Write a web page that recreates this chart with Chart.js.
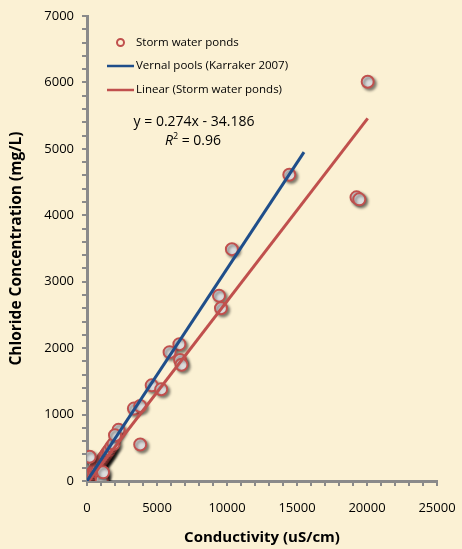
<!DOCTYPE html>
<html>
<head>
<meta charset="utf-8">
<script src="https://cdn.jsdelivr.net/npm/chart.js@4/dist/chart.umd.min.js"></script>
<style>
    html, body { margin: 0; padding: 0; background: #fbf1d4; }
    #wrap { width: 462px; height: 549px; }
</style>
</head>
<body>
<div id="wrap"><canvas id="chloride"></canvas></div>
<script>
// storm water ponds samples (conductivity uS/cm, chloride mg/L)
var pondX = [20050, 19250, 19450, 14450, 10350, 9430, 9570, 6600, 5900, 6650, 6750, 4620, 5300, 3350, 3800, 2250, 3800,
    0, 60, 120, 200, 300, 400, 500, 600, 700, 800, 900, 1000, 1050, 1100, 1200, 1300, 1400, 1500, 1600, 1750, 1900, 2000, 190, 1020, 1050, 1150];
var pondY = [6010, 4270, 4240, 4610, 3490, 2790, 2600, 2060, 1940, 1820, 1750, 1440, 1380, 1090, 1130, 770, 550,
    20, 0, 30, 60, 90, 120, 150, 180, 200, 230, 260, 290, 90, 320, 350, 380, 410, 440, 470, 520, 560, 690, 366, 60, 15, 130];

// Karraker 2007 relationship
var vernalX = [0, 15500];
var vernalY = [0, 4950];

// linear fit of the ponds
var fitSlope = 0.274;
var fitIntercept = -34.186;
var fitX = [0, 20050];

var xTicksMajor = 5000;
var yTicksMajor = 1000;

var labels = ["Storm water ponds", "Vernal pools (Karraker 2007)", "Linear (Storm water ponds)"];
var eqText = "y = 0.274x - 34.186";
var r2Text = "= 0.96";

var red = "#c0504d";
var blue = "#1f4e8a";
var axisGray = "#8a8a8a";

function toPoints(xs, ys) {
    var pts = [];
    for (var i = 0; i < xs.length; i++) {
        pts.push({x: xs[i], y: ys[i]});
    }
    return pts;
}

var fitY = [];
for (var i = 0; i < fitX.length; i++) {
    fitY.push(fitSlope * fitX[i] + fitIntercept);
}

// background + shadows + legend text
var decor = {
    id: "decor",
    beforeDraw: function (chart) {
        var ctx = chart.ctx;
        ctx.save();
        ctx.fillStyle = "#fbf1d4";
        ctx.fillRect(0, 0, chart.width, chart.height);
        ctx.restore();
    },
    beforeDatasetDraw: function (chart, args) {
        if (args.index === 0) {
            var ctx = chart.ctx;
            ctx.save();
            ctx.shadowColor = "rgba(0,0,0,0.45)";
            ctx.shadowOffsetX = 2;
            ctx.shadowOffsetY = 2;
            ctx.shadowBlur = 3;
        }
    },
    afterDatasetDraw: function (chart, args) {
        if (args.index === 0) {
            chart.ctx.restore();
        }
    },
    afterDraw: function (chart) {
        var ctx = chart.ctx;
        ctx.save();
        ctx.font = "11.5px 'Open Sans'";
        ctx.fillStyle = "#000";
        ctx.textBaseline = "middle";
        ctx.textAlign = "left";

        // legend
        ctx.beginPath();
        ctx.arc(120.5, 42.5, 3.5, 0, Math.PI * 2);
        ctx.strokeStyle = red;
        ctx.lineWidth = 2;
        ctx.stroke();
        ctx.fillText(labels[0], 136, 43);

        ctx.lineWidth = 2.5;
        ctx.strokeStyle = blue;
        ctx.beginPath();
        ctx.moveTo(107, 66);
        ctx.lineTo(134, 66);
        ctx.stroke();
        ctx.fillText(labels[1], 136, 66);

        ctx.strokeStyle = red;
        ctx.beginPath();
        ctx.moveTo(107, 90);
        ctx.lineTo(134, 90);
        ctx.stroke();
        ctx.fillText(labels[2], 136, 90);

        // trendline equation
        ctx.font = "14px 'Open Sans'";
        ctx.textAlign = "center";
        ctx.fillText(eqText, 194, 122);
        ctx.textAlign = "left";
        ctx.font = "italic 14px 'Open Sans'";
        ctx.fillText("R", 165, 141);
        var rw = ctx.measureText("R").width;
        ctx.font = "9px 'Open Sans'";
        ctx.fillText("2", 165 + rw, 136);
        ctx.font = "14px 'Open Sans'";
        ctx.fillText(" " + r2Text, 165 + rw + 5, 141);
        ctx.restore();
    }
};

var chartEl = document.getElementById("chloride");
var chlorideChart = new Chart(chartEl, {
    type: "scatter",
    data: {
        datasets: [
            {
                label: labels[0],
                data: toPoints(pondX, pondY),
                order: 3,
                pointRadius: 6,
                pointBorderWidth: 2,
                pointBorderColor: red,
                pointBackgroundColor: "#dcdcdc",
                showLine: false
            },
            {
                label: labels[1],
                data: toPoints(vernalX, vernalY),
                order: 1,
                showLine: true,
                borderColor: blue,
                borderWidth: 3,
                pointRadius: 0
            },
            {
                label: labels[2],
                data: toPoints(fitX, fitY),
                order: 2,
                showLine: true,
                borderColor: red,
                borderWidth: 3,
                pointRadius: 0
            }
        ]
    },
    options: {
        responsive: true,
        maintainAspectRatio: false,
        animation: false,
        layout: { padding: { top: 16, right: 25, left: 0, bottom: 0 } },
        plugins: {
            legend: { display: false },
            tooltip: { enabled: false }
        },
        scales: {
            x: {
                type: "linear",
                min: 0,
                max: 25000,
                afterFit: function (scale) {
                    scale.height = 68;
                    scale.paddingLeft = 0;
                    scale.paddingRight = 0;
                },
                ticks: {
                    stepSize: 1000,
                    autoSkip: false,
                    maxRotation: 0,
                    padding: 14,
                    color: "#000",
                    font: { family: "'Open Sans'", size: 13 },
                    callback: function (v) { return v % xTicksMajor === 0 ? String(v) : ""; }
                },
                grid: { drawOnChartArea: false, tickLength: 5, color: axisGray, lineWidth: 2 },
                border: { color: axisGray, width: 3 },
                title: {
                    display: true,
                    text: "Conductivity (uS/cm)",
                    color: "#000",
                    font: { family: "'Open Sans'", size: 15, weight: "bold" },
                    padding: { top: 0, bottom: 2 }
                }
            },
            y: {
                min: 0,
                max: 7000,
                afterFit: function (scale) {
                    scale.width = 87;
                    scale.paddingTop = 0;
                    scale.paddingBottom = 0;
                },
                ticks: {
                    stepSize: 200,
                    autoSkip: false,
                    padding: 8,
                    color: "#000",
                    font: { family: "'Open Sans'", size: 13 },
                    callback: function (v) { return v % yTicksMajor === 0 ? String(v) : ""; }
                },
                grid: { drawOnChartArea: false, tickLength: 5, color: axisGray, lineWidth: 2 },
                border: { color: axisGray, width: 3 },
                title: {
                    display: true,
                    text: "Chloride Concentration (mg/L)",
                    color: "#000",
                    font: { family: "'Open Sans'", size: 15.5, weight: "bold" },
                    padding: { top: 7, bottom: 0 }
                }
            }
        }
    },
    plugins: [decor]
});
</script>
</body>
</html>
